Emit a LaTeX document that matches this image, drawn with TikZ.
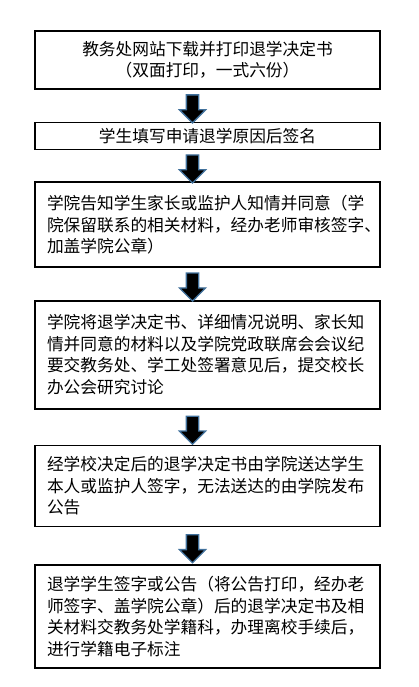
\documentclass[tikz,border=0pt]{standalone}
\usepackage{fontspec}
\newfontfamily\cjk{Noto Sans CJK SC}
\usepackage{xcolor}
\usetikzlibrary{positioning,shapes.arrows,calc}
\definecolor{arrowedge}{RGB}{65,113,156}

\begin{document}
\begin{tikzpicture}[
  x=1pt, y=1pt,
  node distance=32pt,
  box/.style={draw,line width=1.6pt,text width=321pt,inner xsep=12pt,inner ysep=3pt,font=\cjk\fontsize{16.7}{21.5}\selectfont,align=left},
  cbox/.style={box,align=center},
  down/.style={single arrow,draw=arrowedge,fill=black,line width=1.3pt,rotate=-90,minimum height=28pt,single arrow head extend=7pt,inner sep=5.5pt},
]
\useasboundingbox (0,0) rectangle (418,-687);

\node[cbox, minimum height=58pt] (dl) at (207.5,-60) {教务处网站下载并打印退学决定书\\（双面打印，一式六份）};
\node[cbox, minimum height=27pt, below=of dl] (fill) {学生填写申请退学原因后签名};
\node[box, minimum height=85pt, below=31pt of fill] (notify) {学院告知学生家长或监护人知情并同意（学\\院保留联系的相关材料，经办老师审核签字、\\加盖学院公章）};
\node[box, minimum height=108pt, below=of notify] (submit) {学院将退学决定书、详细情况说明、家长知\\情并同意的材料以及学院党政联席会会议纪\\要交教务处、学工处签署意见后，提交校长\\办公会研究讨论};
\node[box, minimum height=81pt, below=35pt of submit] (deliver) {经学校决定后的退学决定书由学院送达学生\\本人或监护人签字，无法送达的由学院发布\\公告};
\node[box, minimum height=103pt, below=37pt of deliver] (finish) {退学学生签字或公告（将公告打印，经办老\\师签字、盖学院公章）后的退学决定书及相\\关材料交教务处学籍科，办理离校手续后，\\进行学籍电子标注};

% block arrows between the steps
\foreach \a/\b in {dl/fill,fill/notify,notify/submit,submit/deliver,deliver/finish}
  \node[down] (\a-\b) at ($(\a.south)!0.5!(\b.north)+(-15,0)$) {};
\end{tikzpicture}
\end{document}
